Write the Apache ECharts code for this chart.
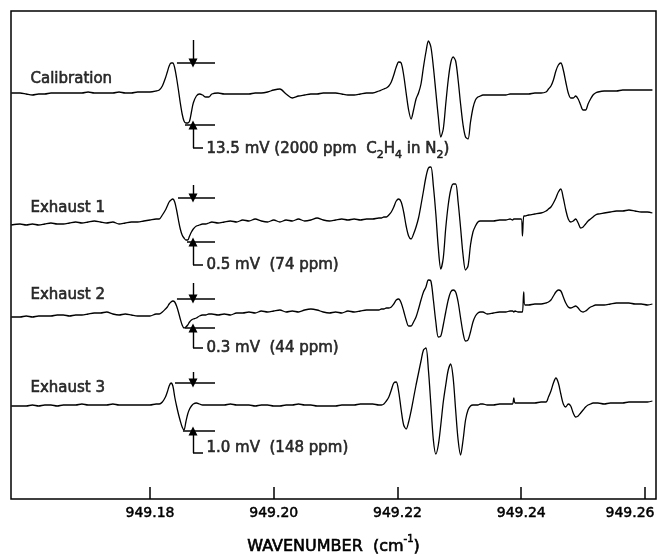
<!DOCTYPE html>
<html>
<head>
<meta charset="utf-8">
<script src="https://cdn.jsdelivr.net/npm/echarts@6/dist/echarts.min.js"></script>
<style>
  html, body { margin: 0; padding: 0; background: #fff; }
  #chart { width: 658px; height: 556px; }
</style>
</head>
<body>
<div id="chart"></div>
<script>
// wavenumber sample points (cm-1), shared by all four traces
var wavenumbers = [
  949.1576, 949.159, 949.160, 949.161, 949.162, 949.163, 949.164, 949.165, 949.166, 949.167, 949.168, 949.169,
  949.170, 949.171, 949.172, 949.173, 949.174, 949.175, 949.176, 949.177, 949.178, 949.179, 949.180, 949.181,
  949.1815, 949.1820, 949.1825, 949.1828, 949.1831, 949.1834, 949.1837, 949.1840, 949.1843, 949.1846, 949.1849, 949.1852,
  949.1855, 949.1858, 949.1861, 949.1864, 949.1867, 949.1870, 949.1875, 949.1880, 949.1885, 949.1890, 949.1895, 949.1900,
  949.191, 949.192, 949.193, 949.194, 949.195, 949.196, 949.197, 949.198, 949.199, 949.200, 949.201, 949.202, 949.203,
  949.204, 949.205, 949.206, 949.207, 949.208, 949.209, 949.210, 949.211, 949.212, 949.213, 949.214, 949.215, 949.216,
  949.2170, 949.2174, 949.2178, 949.2182, 949.2186, 949.2190, 949.2194, 949.2198, 949.2202, 949.2206, 949.2210,
  949.2214, 949.2218, 949.2222, 949.2226, 949.2230, 949.2234, 949.2238, 949.2242, 949.2246, 949.2250, 949.2254,
  949.2258, 949.2262, 949.2266, 949.2270, 949.2274, 949.2278, 949.2282, 949.2286, 949.2290, 949.2294, 949.2298,
  949.2302, 949.2306, 949.2310, 949.2314, 949.2318, 949.2322, 949.2326, 949.2330, 949.2334, 949.2338,
  949.2345, 949.2355, 949.2365, 949.2375, 949.2382, 949.2386, 949.2388, 949.2390, 949.2395, 949.2400, 949.2402,
  949.2404, 949.2406, 949.2412, 949.2422, 949.2432, 949.2440,
  949.2444, 949.2448, 949.2452, 949.2456, 949.2460, 949.2464, 949.2468, 949.2472, 949.2476, 949.2480, 949.2484,
  949.2488, 949.2492, 949.2496, 949.2500, 949.2504, 949.2508, 949.2512, 949.2516, 949.2520, 949.2524,
  949.2534, 949.2544, 949.2554, 949.2564, 949.2574, 949.2584, 949.2594, 949.2604, 949.2612
];

// pen deflection of each trace about its own baseline (arbitrary units)
var calibration = [
  0, 0, -1, -2, -1, -1, 0, 0, 0, 0, 0, 0, 1, 0, 0, 0, 0, 1, 0, 0, 1, 1, 1, 2,
  3, 7, 15, 21, 27, 30, 30, 25, 15, 3, -10, -21, -28, -30, -30, -28, -19, -10, -3, -1, -2, -4, -4, -1,
  0, -1, -1, -1, -1, -1, 0, 0, 1, 3, 4, -1, -5, -3, -2, -1, -1, 0, 0, 0, -1, -2, -2, -1, 0, 0,
  2, 3, 4, 5, 7, 11, 18, 26, 31, 30, 18, 0, -17, -26, -17, -6, 0, 9, 26, 41, 52, 46,
  26, 1, -24, -44, -36, -11, 13, 30, 36, 32, 13, -11, -32, -44, -46, -29, -15, -7, -4, -3, -2,
  -2, -2, -2, -2, -1, -1, -1, -1, -1, -1, -1, -1, -1, -1, 0, 0, 1,
  4, 7, 13, 22, 28, 30, 23, 11, 0, -5, -5, -3, -6, -12, -17, -17, -11, -6, -2, 0, 1,
  2, 2, 2, 3, 3, 3, 3, 3, 3
];
var exhaust1 = [
  -2, -1, -2, -1, -2, -1, 0, -1, -1, 0, 1, 0, 1, 2, 1, 0, 1, -1, 0, 1, 1, 2, 3, 4,
  4, 8, 13, 17, 21, 23, 24, 21, 13, 3, -6, -12, -15, -17, -17, -13, -9, -6, -3, -2, -1, -1, 0, 1,
  0, 1, 2, 1, 3, 2, 4, 2, 1, 3, 1, 3, 2, 4, 2, 3, 5, 3, 2, 3, 4, 3, 4, 3, 4, 4,
  5, 5, 6, 6, 8, 11, 16, 22, 24, 21, 11, -3, -13, -16, -11, -4, 5, 18, 32, 46, 55, 56,
  37, 9, -25, -46, -35, -5, 18, 33, 39, 39, 21, -5, -32, -47, -43, -22, -9, -3, 1, 2, 2,
  2, 2, 3, 3, 4, 3, 4, 4, 4, 4, -13, 7, 7, 8, 9, 10, 12,
  14, 16, 20, 25, 31, 34, 25, 13, 4, 1, 2, 4, 0, -5, -4, -1, 2, 4, 6, 8, 9,
  10, 11, 12, 12, 13, 12, 11, 11, 10
];
var exhaust2 = [
  -4, -4, -3, -4, -3, -3, -3, -2, -2, -3, -2, -2, -1, 0, 0, 1, -1, -2, -1, -2, -3, -3, -3, -1,
  -1, 1, 4, 6, 9, 11, 12, 11, 7, 1, -6, -12, -15, -14, -12, -9, -7, -6, -5, -3, -2, -2, -1, -1,
  -2, -1, -2, 0, 0, 1, 0, 2, 1, 2, 3, 1, 2, 1, 3, 4, 3, 1, 0, 1, 0, 2, 1, 2, 3, 3,
  3, 4, 4, 5, 5, 6, 9, 13, 14, 10, 2, -7, -13, -13, -9, -4, 4, 13, 21, 26, 33, 32,
  13, -9, -24, -23, -12, 1, 13, 21, 23, 21, 11, -5, -20, -28, -27, -19, -9, -3, 0, 1, 1,
  -1, 0, 1, 1, 2, 2, 1, 2, 1, 1, 1, 21, 8, 8, 9, 9, 10,
  11, 13, 17, 21, 23, 22, 16, 10, 6, 5, 6, 7, 5, 2, 1, 2, 4, 6, 7, 8, 8,
  8, 9, 10, 10, 10, 9, 9, 8, 9
];
var exhaust3 = [
  -1, -1, -1, 0, -1, 0, 0, -1, 0, 0, 0, 1, 0, 0, 0, 0, 1, 0, 0, 0, 0, 0, 0, 1,
  1, 3, 8, 13, 19, 22, 19, 8, -1, -9, -16, -22, -25, -17, -9, -4, -1, 1, 2, 1, 0, 0, 0, 0,
  0, 0, 1, 0, 0, 0, -1, 0, 0, -1, -1, 0, 0, 1, 0, 0, -1, -1, -1, -1, 0, 0, 0, 1, 1, 1,
  0, 0, 1, 4, 8, 15, 22, 23, 13, -5, -20, -24, -17, -6, 7, 20, 32, 44, 55, 57, 35, 0,
  -35, -49, -40, -20, 3, 20, 35, 41, 27, -5, -35, -50, -35, -15, -5, -1, 0, 0, 0, 1, 1,
  0, 0, 1, 1, 1, 1, 7, 2, 2, 2, 2, 2, 2, 2, 2, 3, 3,
  8, 14, 22, 27, 22, 11, 1, -2, 1, -1, -8, -12, -11, -8, -5, -2, 0, 1, 2, 2, 2,
  1, 2, 2, 2, 3, 3, 3, 3, 4
];

var traceNames = ['Calibration', 'Exhaust 1', 'Exhaust 2', 'Exhaust 3'];
var traceOffsets = [406, 276, 186, 94];
var traceNameLevel = [13, 14, 17, 16];

// peak-to-peak markers of the first line, per trace (same units as the traces)
var markTop = [30, 25, 14, 22];
var markBottom = [-32, -19, -15, -26];
var arrowFrom = [53, 38, 30, 33];
var leaderLevel = [-55, -42, -35, -48];
var noteLevel = [-57, -43, -36, -44];
var topStart = [949.18436, 949.18453, 949.18436, 949.18404];
var bottomStart = [949.18566, 949.18598, 949.18566, 949.18533];
var markEnd = 949.19051;
var arrowX = 949.18695;
var leaderEnd = 949.18857;
var noteX = 949.18905;
var nameX = 949.16061;
var notes = [
  '{t|13.5 mV (2000 ppm  C}{s|2}{t|H}{s|4}{t| in N}{s|2}{t|)}',
  '{t|0.5 mV  (74 ppm)}',
  '{t|0.3 mV  (44 ppm)}',
  '{t|1.0 mV  (148 ppm)}'
];

var tickValues = [949.18, 949.20, 949.22, 949.24, 949.26];

var ink = '#000';
var font = 'DejaVu Sans';
var traces = [calibration, exhaust1, exhaust2, exhaust3];

var series = [];
traces.forEach(function (tr, k) {
  series.push({
    name: traceNames[k],
    type: 'line',
    data: wavenumbers.map(function (w, i) { return [w, traceOffsets[k] + tr[i]]; }),
    showSymbol: false,
    smooth: 0.3,
    lineStyle: { color: ink, width: 1.3 },
    silent: true
  });
});

var levelLines = [], arrows = [];
traces.forEach(function (tr, k) {
  var o = traceOffsets[k];
  levelLines.push({ coords: [[topStart[k], o + markTop[k]], [markEnd, o + markTop[k]]] });
  levelLines.push({ coords: [[bottomStart[k], o + markBottom[k]], [markEnd, o + markBottom[k]]] });
  levelLines.push({ coords: [[arrowX, o + leaderLevel[k]], [leaderEnd, o + leaderLevel[k]]] });
  arrows.push({ coords: [[arrowX, o + arrowFrom[k]], [arrowX, o + markTop[k]]] });
  arrows.push({ coords: [[arrowX, o + leaderLevel[k]], [arrowX, o + markBottom[k]]] });
});

series.push({
  type: 'lines', coordinateSystem: 'cartesian2d', data: levelLines,
  symbol: 'none', lineStyle: { color: ink, width: 1.5, opacity: 1 }, silent: true
});
series.push({
  type: 'lines', coordinateSystem: 'cartesian2d', data: arrows,
  symbol: ['none', 'triangle'], symbolSize: [6, 9],
  itemStyle: { color: ink }, lineStyle: { color: ink, width: 1.4, opacity: 1 }, silent: true
});

var textItems = [];
traces.forEach(function (tr, k) {
  textItems.push({ value: [nameX, traceOffsets[k] + traceNameLevel[k]], label: { formatter: '{t|' + traceNames[k] + '}' } });
  textItems.push({ value: [noteX, traceOffsets[k] + noteLevel[k]], label: { formatter: notes[k] } });
});

var heavy = { textBorderColor: ink, textBorderWidth: 0.6 };

series.push({
  type: 'scatter',
  data: textItems,
  symbolSize: 1,
  itemStyle: { color: 'rgba(0,0,0,0)' },
  silent: true,
  label: {
    show: true, position: 'right', distance: 0, align: 'left',
    color: ink, fontFamily: font,
    rich: {
      t: Object.assign({ fontSize: 15, lineHeight: 16, color: ink, fontFamily: font, verticalAlign: 'top' }, heavy),
      s: Object.assign({ fontSize: 11, lineHeight: 12, color: ink, fontFamily: font, verticalAlign: 'top', padding: [8, 0, 0, 0] }, heavy)
    }
  }
});

var chart = echarts.init(document.getElementById('chart'));
chart.setOption({
  animation: false,
  backgroundColor: '#fff',
  grid: {
    left: 11, right: 2, top: 11, bottom: 57, outerBoundsMode: 'none', containLabel: false,
    show: true, borderColor: ink, borderWidth: 1.5, backgroundColor: 'transparent'
  },
  xAxis: {
    type: 'value',
    min: 949.15754,
    max: 949.26178,
    name: '{t|WAVENUMBER  (cm}{p|-1}{t|)}',
    nameLocation: 'middle',
    nameGap: 35,
    nameTextStyle: {
      rich: {
        t: Object.assign({ fontSize: 16, lineHeight: 18, color: ink, fontFamily: font, verticalAlign: 'top', padding: [5, 0, 0, 0] }, heavy),
        p: Object.assign({ fontSize: 10, lineHeight: 10, color: ink, fontFamily: font, verticalAlign: 'top' }, heavy)
      }
    },
    axisLine: { show: false },
    splitLine: { show: false },
    axisTick: { show: true, inside: true, length: 12, customValues: tickValues, lineStyle: { color: ink, width: 1.5 } },
    axisLabel: {
      customValues: tickValues, margin: 7, color: ink, fontFamily: font, fontSize: 14,
      textBorderColor: ink, textBorderWidth: 0.5,
      formatter: function (v) {
        var s = v.toFixed(2);
        return v === tickValues[tickValues.length - 1] ? '{e|' + s + '}' : s;
      },
      rich: {
        e: { fontSize: 14, color: ink, fontFamily: font, textBorderColor: ink, textBorderWidth: 0.5, padding: [0, 30, 0, 0] }
      }
    }
  },
  yAxis: { type: 'value', min: 0, max: 488, show: false },
  series: series
});
</script>
</body>
</html>
